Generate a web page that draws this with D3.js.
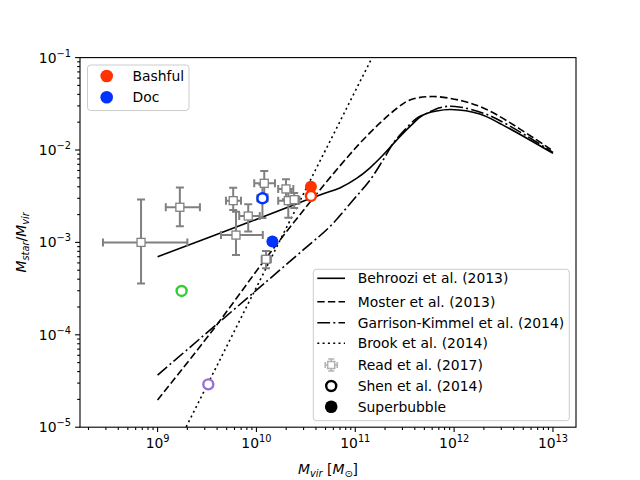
<!DOCTYPE html>
<html>
<head>
<meta charset="utf-8">
<script src="https://cdn.jsdelivr.net/npm/d3@7"></script>
<style>
body { margin: 0; background: #fff; }
text { font-family: "DejaVu Sans", sans-serif; }
</style>
</head>
<body>
<script>
// model curves (Mvir, Mstar/Mvir)
var behrooziM = [1e9, 8.6e9, 4.38e10, 6.98e10, 1.03e11, 1.4e11, 1.91e11, 2.62e11, 3.56e11, 4.86e11, 6.64e11, 9.27e11, 1.82e12, 3.09e12, 1e13];
var behrooziR = [7.0e-4, 1.67e-3, 3.26e-3, 3.88e-3, 4.92e-3, 6.38e-3, 8.83e-3, 1.28e-2, 1.79e-2, 2.39e-2, 2.64e-2, 2.74e-2, 2.45e-2, 1.87e-2, 9.2e-3];

var mosterM = [1e9, 3.63e9, 1.37e10, 4.06e10, 6.98e10, 1.11e11, 1.77e11, 2.64e11, 3.57e11, 5.96e11, 1.22e12, 2.3e12, 1e13];
var mosterR = [1.97e-5, 1.13e-4, 7.67e-4, 3.34e-3, 6.71e-3, 1.18e-2, 1.95e-2, 2.83e-2, 3.48e-2, 3.79e-2, 3.39e-2, 2.64e-2, 9.8e-3];

var gkM = [1e9, 2.97e10, 5.53e10, 9.53e10, 1.41e11, 1.91e11, 2.42e11, 3.05e11, 4.17e11, 5.26e11, 7.16e11, 1.02e12, 2.3e12, 1e13];
var gkR = [3.67e-5, 8.28e-4, 1.48e-3, 2.88e-3, 4.73e-3, 7.79e-3, 1.18e-2, 1.58e-2, 2.2e-2, 2.49e-2, 2.87e-2, 2.96e-2, 2.35e-2, 9.4e-3];

var brookM = [1e9, 1e10, 1e11, 3e11];
var brookR = [2.45e-6, 3.27e-4, 4.35e-2, 0.449];

// Read et al. (2017)
var readM   = [6.8e8, 1.68e9, 5.82e9, 8.26e9, 6.21e9, 1.2e10, 1.99e10, 2.1e10, 2.41e10, 1.25e10, 1.15e10];
var readMlo = [2.8e8, 1.21e9, 4.92e9, 6.7e9, 4.38e9, 9.5e9, 1.66e10, 1.66e10, 2.23e10, 1.13e10, 1.02e10];
var readMhi = [2.0e9, 2.68e9, 6.98e9, 1.08e10, 1.16e10, 1.54e10, 2.36e10, 2.71e10, 2.71e10, 1.4e10, 1.3e10];
var readR   = [1.0e-3, 2.4e-3, 2.83e-3, 1.93e-3, 1.2e-3, 4.36e-3, 3.79e-3, 2.83e-3, 2.9e-3, 6.56e-4, 3.0e-3];
var readRlo = [3.6e-4, 1.5e-3, 2.24e-3, 1.31e-3, 7.3e-4, 3.32e-3, 2.93e-3, 1.85e-3, 2.36e-3, 5.25e-4, 1.84e-3];
var readRhi = [2.92e-3, 3.94e-3, 3.91e-3, 2.58e-3, 2.15e-3, 5.93e-3, 4.82e-3, 3.6e-3, 3.43e-3, 8.07e-4, 4.2e-3];

// Shen et al. (2014) open circles
var shenM = [3.56e10, 1.15e10, 1.75e9, 3.26e9];
var shenR = [3.18e-3, 3.0e-3, 2.98e-4, 2.91e-5];
var shenColor = ["#ff3300", "#0033ff", "#33cc33", "#9370db"];

// superbubble filled circles
var bubbleName = ["Bashful", "Doc"];
var bubbleM = [3.56e10, 1.45e10];
var bubbleR = [4.01e-3, 1.02e-3];
var bubbleColor = ["#ff3300", "#0033ff"];

var modelLabels = ["Behroozi et al. (2013)", "Moster et al. (2013)", "Garrison-Kimmel et al. (2014)", "Brook et al. (2014)"];
var xTicks = [1e9, 1e10, 1e11, 1e12, 1e13];
var yTicks = [1e-5, 1e-4, 1e-3, 1e-2, 1e-1];

var svg = d3.select("body").append("svg")
.attr("width", 640)
.attr("height", 480);

var pL = 80, pR = 576, pT = 57.6, pB = 427.2;

var x = d3.scaleLog().domain([Math.pow(10, 8.215), Math.pow(10, 13.233)]).range([pL, pR]);
var y = d3.scaleLog().domain([1e-5, 1e-1]).range([pB, pT]);

svg.append("clipPath").attr("id", "clip")
.append("rect").attr("x", pL).attr("y", pT).attr("width", pR - pL).attr("height", pB - pT);

var plot = svg.append("g").attr("clip-path", "url(#clip)");

var line = d3.line().x(function(d) { return x(d[0]); }).y(function(d) { return y(d[1]); });

function addCurve(ms, rs, dash, curve) {
  plot.append("path")
  .datum(d3.zip(ms, rs))
  .attr("d", line.curve(curve))
  .attr("fill", "none")
  .attr("stroke", "#000")
  .attr("stroke-width", 1.6)
  .attr("stroke-dasharray", dash);
}

var smooth = d3.curveCatmullRom.alpha(0.5);
addCurve(behrooziM, behrooziR, null, smooth);
addCurve(mosterM, mosterR, "7.4,3.2", smooth);
addCurve(gkM, gkR, "12.8,3.2,2,3.2", smooth);
addCurve(brookM, brookR, "2,3.3", d3.curveLinear);

// error bars
var grey = "#808080";
readM.forEach(function(m, i) {
  var cx = x(m), cy = y(readR[i]);
  var g = plot.append("g").attr("stroke", grey).attr("stroke-width", 2);
  g.append("line").attr("x1", x(readMlo[i])).attr("x2", x(readMhi[i])).attr("y1", cy).attr("y2", cy);
  g.append("line").attr("x1", cx).attr("x2", cx).attr("y1", y(readRlo[i])).attr("y2", y(readRhi[i]));
  [x(readMlo[i]), x(readMhi[i])].forEach(function(px) {
    g.append("line").attr("x1", px).attr("x2", px).attr("y1", cy - 4).attr("y2", cy + 4);
  });
  [y(readRlo[i]), y(readRhi[i])].forEach(function(py) {
    g.append("line").attr("x1", cx - 4).attr("x2", cx + 4).attr("y1", py).attr("y2", py);
  });
});
readM.forEach(function(m, i) {
  plot.append("rect")
  .attr("x", x(m) - 4).attr("y", y(readR[i]) - 4)
  .attr("width", 8).attr("height", 8)
  .attr("fill", "#fff").attr("stroke", grey).attr("stroke-width", 1.3);
});

// superbubble
bubbleM.forEach(function(m, i) {
  plot.append("circle").attr("cx", x(m)).attr("cy", y(bubbleR[i])).attr("r", 6)
  .attr("fill", bubbleColor[i]);
});
// Shen
shenM.forEach(function(m, i) {
  plot.append("circle").attr("cx", x(m)).attr("cy", y(shenR[i])).attr("r", 5)
  .attr("fill", "#fff").attr("stroke", shenColor[i]).attr("stroke-width", 2.4);
});

// axes
function minors(lo, hi) {
  var out = [];
  for (var e = lo; e <= hi; e++) {
    for (var k = 2; k <= 9; k++) out.push(k * Math.pow(10, e));
  }
  return out;
}
var xMinor = minors(8, 13).filter(function(v) { return v >= x.domain()[0] && v <= x.domain()[1]; });
var yMinor = minors(-5, -2);

var axes = svg.append("g").attr("stroke", "#000").attr("stroke-width", 1.1);
xMinor.forEach(function(v) {
  axes.append("line").attr("x1", x(v)).attr("x2", x(v)).attr("y1", pB).attr("y2", pB + 2.8);
});
xTicks.forEach(function(v) {
  axes.append("line").attr("x1", x(v)).attr("x2", x(v)).attr("y1", pB).attr("y2", pB + 4.9);
});
yMinor.forEach(function(v) {
  axes.append("line").attr("x1", pL - 2.8).attr("x2", pL).attr("y1", y(v)).attr("y2", y(v));
});
yTicks.forEach(function(v) {
  axes.append("line").attr("x1", pL - 4.9).attr("x2", pL).attr("y1", y(v)).attr("y2", y(v));
});
svg.append("rect").attr("x", pL).attr("y", pT).attr("width", pR - pL).attr("height", pB - pT)
.attr("fill", "none").attr("stroke", "#000").attr("stroke-width", 1.1);

function expo(v) { return String(Math.round(Math.log10(v))).replace("-", "\u2212"); }

xTicks.forEach(function(v) {
  var t = svg.append("text").attr("x", x(v)).attr("y", 447.5).attr("text-anchor", "middle")
  .attr("font-size", 13.9);
  t.append("tspan").text("10");
  t.append("tspan").attr("dy", -6).attr("font-size", 9.8).text(expo(v));
});
yTicks.forEach(function(v) {
  var t = svg.append("text").attr("x", 71).attr("y", y(v) + 5).attr("text-anchor", "end")
  .attr("font-size", 13.9);
  t.append("tspan").text("10");
  t.append("tspan").attr("dy", -6).attr("font-size", 9.8).text(expo(v));
});

// axis labels
var xl = svg.append("text").attr("x", 328).attr("y", 474).attr("text-anchor", "middle").attr("font-size", 13.9);
xl.append("tspan").attr("font-style", "italic").text("M");
xl.append("tspan").attr("font-style", "italic").attr("font-size", 9.8).attr("dy", 2.5).text("vir");
xl.append("tspan").attr("dy", -2.5).text(" [");
xl.append("tspan").attr("font-style", "italic").text("M");
xl.append("tspan").attr("font-size", 9.8).attr("dy", 2.5).text("\u2299");
xl.append("tspan").attr("dy", -2.5).text("]");

var yl = svg.append("text").attr("transform", "translate(26,242.4) rotate(-90)")
.attr("text-anchor", "middle").attr("font-size", 13.9);
yl.append("tspan").attr("font-style", "italic").text("M");
yl.append("tspan").attr("font-style", "italic").attr("font-size", 9.8).attr("dy", 2.5).text("star");
yl.append("tspan").attr("dy", -2.5).text("/");
yl.append("tspan").attr("font-style", "italic").text("M");
yl.append("tspan").attr("font-style", "italic").attr("font-size", 9.8).attr("dy", 2.5).text("vir");

// upper-left legend
var lg1 = svg.append("g");
lg1.append("rect").attr("x", 87.5).attr("y", 65).attr("width", 101.5).attr("height", 45.5).attr("rx", 3)
.attr("fill", "#fff").attr("fill-opacity", 0.8).attr("stroke", "#cccccc").attr("stroke-width", 1);
bubbleName.forEach(function(n, i) {
  var cy = 76 + i * 21.3;
  lg1.append("circle").attr("cx", 106.7).attr("cy", cy).attr("r", 6.3).attr("fill", bubbleColor[i]);
  lg1.append("text").attr("x", 132.5).attr("y", cy + 5).attr("font-size", 13.9).text(n);
});

// lower-right legend
var lg2 = svg.append("g");
lg2.append("rect").attr("x", 313.3).attr("y", 269.3).attr("width", 256).attr("height", 151.4).attr("rx", 3)
.attr("fill", "#fff").attr("fill-opacity", 0.8).attr("stroke", "#cccccc").attr("stroke-width", 1);
var dashes = [null, "7.4,3.2", "12.8,3.2,2,3.2", "2,3.3"];
var rowY = [278.3, 301.7, 322.7, 343.3, 365, 386, 406.7];
var allLabels = modelLabels.concat(["Read et al. (2017)", "Shen et al. (2014)", "Superbubble"]);
modelLabels.forEach(function(n, i) {
  lg2.append("line").attr("x1", 317.3).attr("x2", 345).attr("y1", rowY[i]).attr("y2", rowY[i])
  .attr("stroke", "#000").attr("stroke-width", 1.6).attr("stroke-dasharray", dashes[i]);
});
allLabels.forEach(function(n, i) {
  lg2.append("text").attr("x", 357.7).attr("y", rowY[i] + 5).attr("font-size", 13.9).text(n);
});
var ly = rowY[4], lc = 331.2;
var eg = lg2.append("g").attr("stroke", "#b0b0b0").attr("stroke-width", 1.5);
eg.append("line").attr("x1", lc - 6).attr("x2", lc + 6).attr("y1", ly).attr("y2", ly);
eg.append("line").attr("x1", lc).attr("x2", lc).attr("y1", ly - 6).attr("y2", ly + 6);
eg.append("line").attr("x1", lc - 6).attr("x2", lc - 6).attr("y1", ly - 3).attr("y2", ly + 3);
eg.append("line").attr("x1", lc + 6).attr("x2", lc + 6).attr("y1", ly - 3).attr("y2", ly + 3);
eg.append("line").attr("x1", lc - 3).attr("x2", lc + 3).attr("y1", ly - 6).attr("y2", ly - 6);
eg.append("line").attr("x1", lc - 3).attr("x2", lc + 3).attr("y1", ly + 6).attr("y2", ly + 6);
eg.append("rect").attr("x", lc - 3.5).attr("y", ly - 3.5).attr("width", 7).attr("height", 7).attr("fill", "#fff");
lg2.append("circle").attr("cx", lc).attr("cy", rowY[5]).attr("r", 5).attr("fill", "#fff")
.attr("stroke", "#000").attr("stroke-width", 2.4);
lg2.append("circle").attr("cx", lc).attr("cy", rowY[6]).attr("r", 6.3).attr("fill", "#000");
</script>
</body>
</html>
